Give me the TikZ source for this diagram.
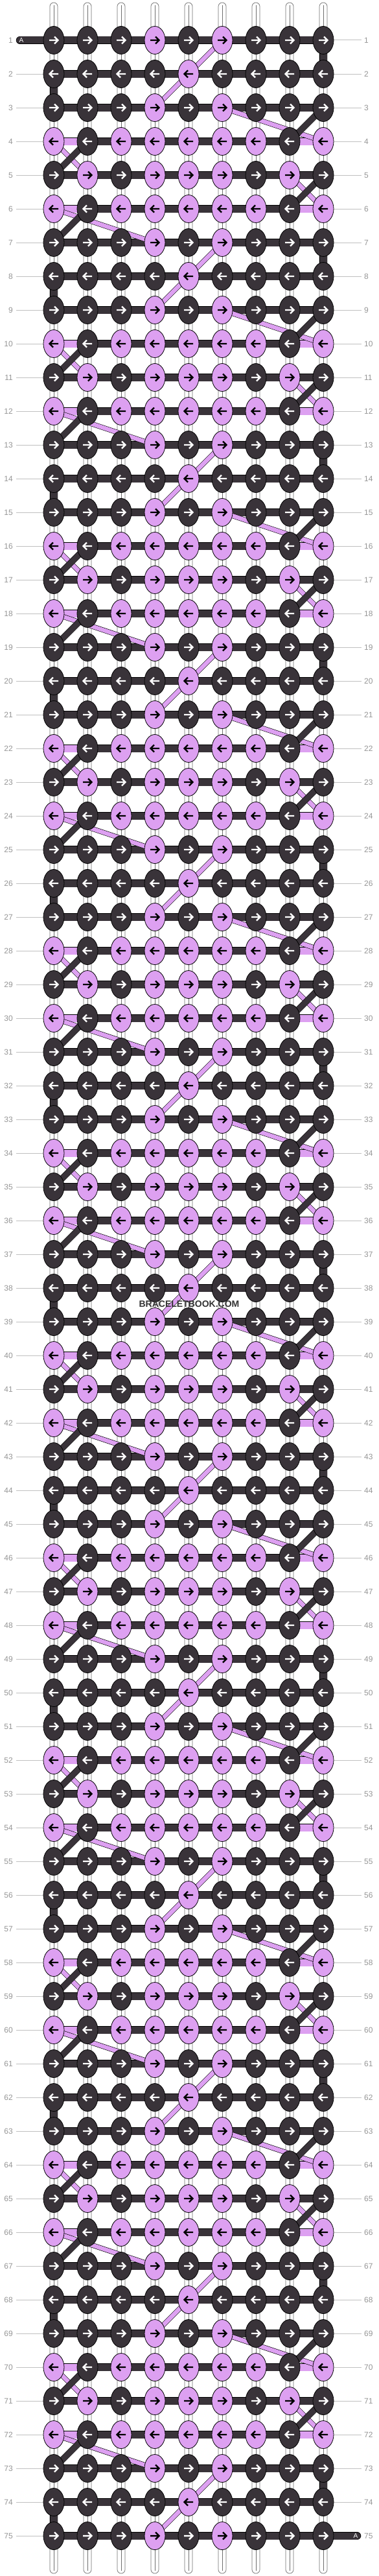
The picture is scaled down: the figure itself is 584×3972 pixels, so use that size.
\documentclass[tikz,border=0pt]{standalone}
\usepackage{fontspec}
\setmainfont{Liberation Sans}
\usetikzlibrary{shapes.geometric}
\definecolor{dk}{RGB}{57,51,57}
\definecolor{lil}{RGB}{221,160,241}
\definecolor{labc}{RGB}{150,150,150}
\definecolor{linec}{RGB}{192,192,192}
\definecolor{strc}{RGB}{110,110,110}
\definecolor{wmc}{RGB}{51,51,51}
\pgfdeclarelayer{bg}
\pgfdeclarelayer{bars}
\pgfdeclarelayer{diagL}
\pgfdeclarelayer{diagD}
\pgfsetlayers{bg,bars,diagL,diagD,main}
\newcommand\lildiag[2]{\begin{pgfonlayer}{diagL}\draw[ldiag] (#1.center) -- (#2.center);\end{pgfonlayer}}
\newcommand\dkdiag[2]{\begin{pgfonlayer}{diagD}\draw[ddiag] (#1.center) -- (#2.center);\end{pgfonlayer}}
\newcommand\vbar[2]{\begin{pgfonlayer}{bars}\draw[hbar] (#1.center) -- (#2.center);\end{pgfonlayer}}
\begin{document}
\begin{tikzpicture}[x=1pt,y=-1pt,
 knot/.style={ellipse,draw=black,line width=0.8pt,minimum width=32pt,minimum height=43pt,inner sep=0pt},
 arr/.style={line width=2.4pt,line join=miter},
 hbar/.style={draw=black,line width=0.7pt,double=dk,double distance=11pt},
 lbar/.style={draw=black,line width=0.7pt,double=lil,double distance=11pt},
 ldiag/.style={draw=black,line width=0.6pt,double=lil,double distance=6.5pt},
 ddiag/.style={draw=black,line width=0.6pt,double=dk,double distance=8.5pt},
 strg/.style={draw=strc,line width=0.7pt,fill=white,rounded corners=6pt},
 lab/.style={text=labc,font=\fontsize{12}{14}\selectfont,inner sep=0pt},
 labline/.style={draw=linec,line width=1pt},
 abar/.style={draw=black,line width=0.7pt,double=dk,double distance=11pt,line cap=round},
 atext/.style={text=white,font=\fontsize{10}{12}\selectfont,inner sep=0pt}
]
\begin{pgfonlayer}{bg}
\fill[white] (0,0) rectangle (584,3972);
\foreach \cl in {1,...,9}{
  \pgfmathsetmacro\xx{83+(\cl-1)*52}
  \draw[strg] (\xx-6,4) rectangle (\xx+6,3968);
  \draw[strc,line width=0.6pt] (\xx,8) -- (\xx,3964);
}
\end{pgfonlayer}
\useasboundingbox (0,0) rectangle (584,3972);

\foreach \rw in {1,...,75}{
  \pgfmathsetmacro\yy{62+(\rw-1)*52}
  \pgfmathtruncatemacro\m{mod(\rw,6)}
  \pgfmathtruncatemacro\od{mod(\rw,2)}
  \pgfmathtruncatemacro\isc{(\m==0)||(\m==4)}
  \foreach \cl in {1,...,9}{
    \pgfmathsetmacro\xx{83+(\cl-1)*52}
    \pgfmathtruncatemacro\L{{1,0,1,1,1,1,1,0,1,0,0,0,1,0,1,0,0,0,0,0,0,0,1,0,0,0,0,0,0,0,1,0,1,0,0,0,1,0,1,1,1,1,1,0,1,0,1,0,1,1,1,0,1,0}[\m*9+\cl-1]}
    \ifnum\L=1 \def\kc{lil}\def\ac{black}\else\def\kc{dk}\def\ac{white}\fi
    \node[knot,fill=\kc] (k-\rw-\cl) at (\xx,\yy) {};
    \ifnum\od=1
      \draw[arr,\ac] (\xx-7,\yy) -- (\xx+6,\yy) (\xx+1,\yy-5.5) -- (\xx+6.5,\yy) -- (\xx+1,\yy+5.5);
    \else
      \draw[arr,\ac] (\xx+7,\yy) -- (\xx-6,\yy) (\xx-1,\yy-5.5) -- (\xx-6.5,\yy) -- (\xx-1,\yy+5.5);
    \fi
  }
  \node[lab,anchor=east] (nl-\rw) at (20,\yy) {\rw};
  \node[lab,anchor=west] (nr-\rw) at (562,\yy) {\rw};
  \coordinate (ll-\rw) at (25,\yy);
  \coordinate (rl-\rw) at (558,\yy);
  \begin{pgfonlayer}{bg}
    \draw[labline] (ll-\rw) -- (k-\rw-1.west);
    \draw[labline] (k-\rw-9.east) -- (rl-\rw);
  \end{pgfonlayer}
  \begin{pgfonlayer}{bars}
    \draw[hbar] (k-\rw-1.center) -- (k-\rw-9.center);
    \ifnum\isc=1
      \draw[lbar] (k-\rw-1.center) -- (k-\rw-2.center);
      \draw[lbar] (k-\rw-8.center) -- (k-\rw-9.center);
    \fi
  \end{pgfonlayer}
}

\foreach \rw in {1,...,74}{
  \pgfmathtruncatemacro\nx{\rw+1}
  \pgfmathtruncatemacro\m{mod(\rw,6)}
  \ifcase\m
    \lildiag{k-\rw-1}{k-\nx-4}\dkdiag{k-\rw-2}{k-\nx-1}%
  \or
    \lildiag{k-\rw-6}{k-\nx-5}\vbar{k-\rw-9}{k-\nx-9}%
  \or
    \lildiag{k-\rw-5}{k-\nx-4}\vbar{k-\rw-1}{k-\nx-1}%
  \or
    \lildiag{k-\rw-6}{k-\nx-9}\dkdiag{k-\rw-9}{k-\nx-8}%
  \or
    \lildiag{k-\rw-1}{k-\nx-2}\dkdiag{k-\rw-2}{k-\nx-1}%
  \or
    \lildiag{k-\rw-8}{k-\nx-9}\dkdiag{k-\rw-9}{k-\nx-8}%
  \fi
}

\coordinate (aL) at (31,62);
\coordinate (aR) at (551,3910);
\begin{pgfonlayer}{bars}
\draw[abar] (aL) -- (k-1-1.center);
\draw[abar] (k-75-9.center) -- (aR);
\end{pgfonlayer}
\node[atext] (at-l) at (33,62) {A};
\node[atext] (at-r) at (549,3910) {A};

\node[font=\bfseries\fontsize{14}{16}\selectfont,text=wmc,inner sep=0pt] (wm) at (292,2011) {BRACELETBOOK.COM};
\end{tikzpicture}
\end{document}
